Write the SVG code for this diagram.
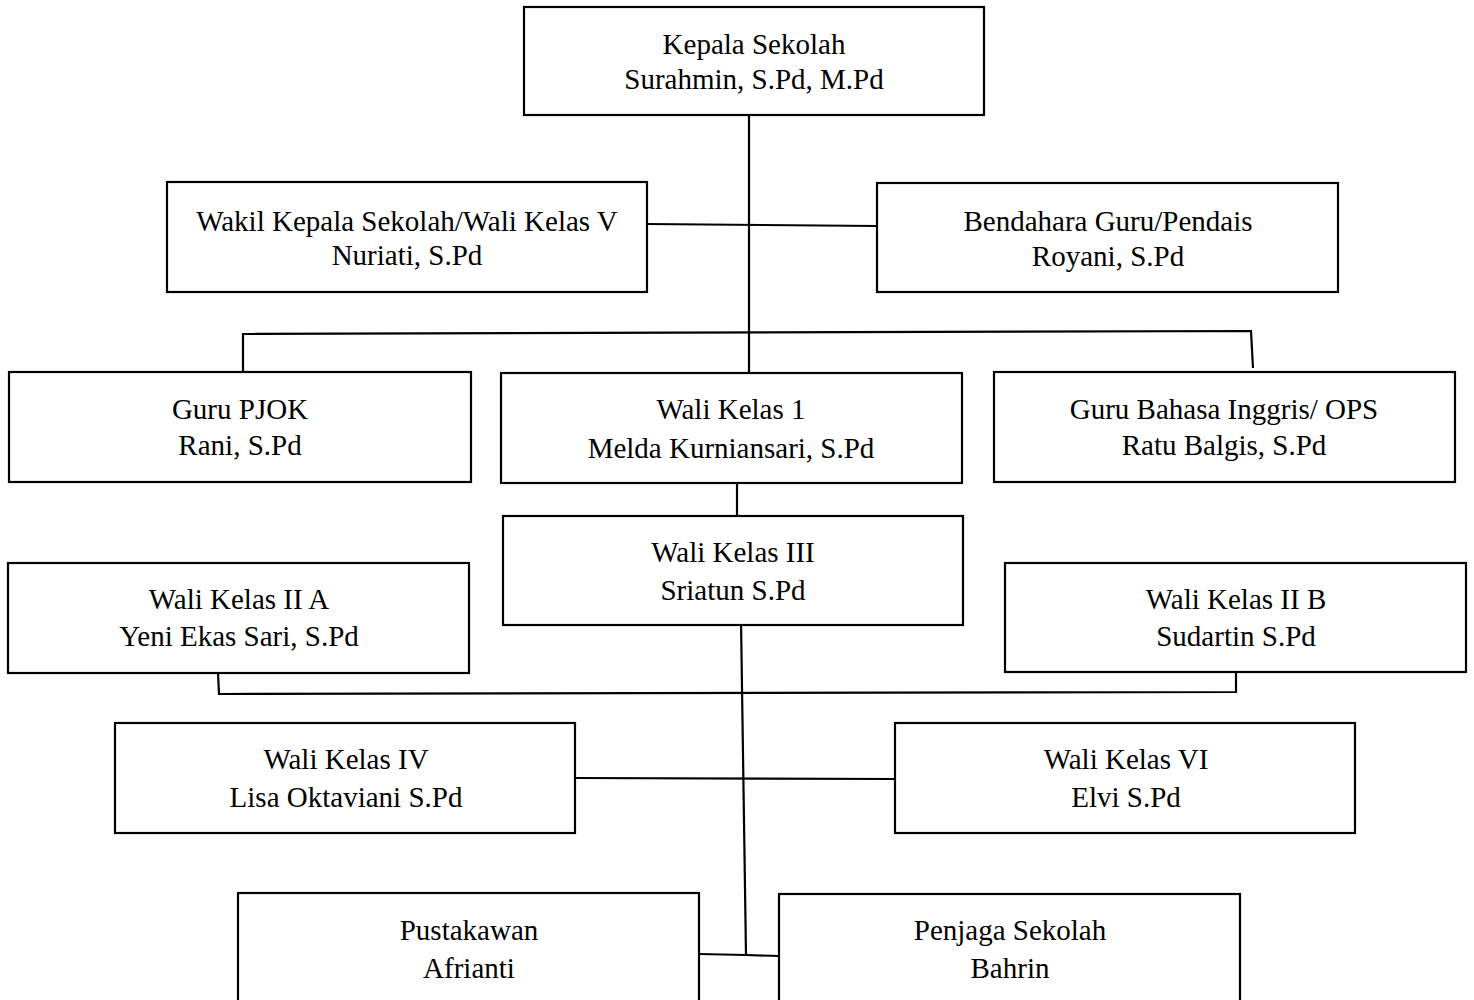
<svg xmlns="http://www.w3.org/2000/svg" width="1474" height="1000" viewBox="0 0 1474 1000">
<style>
.box{fill:#fff;stroke:#000;stroke-width:2.2}
.ln{fill:none;stroke:#000;stroke-width:2.2}
text{font-family:"Liberation Serif","Times New Roman",serif;font-size:29px;fill:#000;text-anchor:middle}
</style>
<rect width="1474" height="1000" fill="#fff"/>
<g id="connectors">
<line class="ln" x1="749" y1="115" x2="749" y2="373"/>
<line class="ln" x1="647" y1="224" x2="877" y2="226"/>
<polyline class="ln" points="243,372 243,334 1251,331 1253,368"/>
<line class="ln" x1="737" y1="483" x2="737" y2="516"/>
<line class="ln" x1="741" y1="620" x2="746" y2="955"/>
<polyline class="ln" points="218,673 219,694 1236,692 1236,672"/>
<line class="ln" x1="575" y1="778" x2="895" y2="779"/>
<polyline class="ln" points="699,954 746,955 779,956"/>
</g>
<g id="kepala"><rect class="box" x="524" y="7" width="460" height="108"/><text x="754" y="54">Kepala Sekolah</text><text x="754" y="89">Surahmin, S.Pd, M.Pd</text></g>
<g id="wakil"><rect class="box" x="167" y="182" width="480" height="110"/><text x="407" y="231">Wakil Kepala Sekolah/Wali Kelas V</text><text x="407" y="265">Nuriati, S.Pd</text></g>
<g id="bendahara"><rect class="box" x="877" y="183" width="461" height="109"/><text x="1108" y="231">Bendahara Guru/Pendais</text><text x="1108" y="266">Royani, S.Pd</text></g>
<g id="pjok"><rect class="box" x="9" y="372" width="462" height="110"/><text x="240" y="419">Guru PJOK</text><text x="240" y="455">Rani, S.Pd</text></g>
<g id="wali1"><rect class="box" x="501" y="373" width="461" height="110"/><text x="731" y="419">Wali Kelas 1</text><text x="731" y="458">Melda Kurniansari, S.Pd</text></g>
<g id="inggris"><rect class="box" x="994" y="372" width="461" height="110"/><text x="1224" y="419">Guru Bahasa Inggris/ OPS</text><text x="1224" y="455">Ratu Balgis, S.Pd</text></g>
<g id="wali3"><rect class="box" x="503" y="516" width="460" height="109"/><text x="733" y="562">Wali Kelas III</text><text x="733" y="600">Sriatun S.Pd</text></g>
<g id="wali2a"><rect class="box" x="8" y="563" width="461" height="110"/><text x="239" y="609">Wali Kelas II A</text><text x="239" y="646">Yeni Ekas Sari, S.Pd</text></g>
<g id="wali2b"><rect class="box" x="1005" y="563" width="461" height="109"/><text x="1236" y="609">Wali Kelas II B</text><text x="1236" y="646">Sudartin S.Pd</text></g>
<g id="wali4"><rect class="box" x="115" y="723" width="460" height="110"/><text x="346" y="769">Wali Kelas IV</text><text x="346" y="807">Lisa Oktaviani S.Pd</text></g>
<g id="wali6"><rect class="box" x="895" y="723" width="460" height="110"/><text x="1126" y="769">Wali Kelas VI</text><text x="1126" y="807">Elvi S.Pd</text></g>
<g id="pustakawan"><rect class="box" x="238" y="893" width="461" height="120"/><text x="469" y="940">Pustakawan</text><text x="469" y="978">Afrianti</text></g>
<g id="penjaga"><rect class="box" x="779" y="894" width="461" height="120"/><text x="1010" y="940">Penjaga Sekolah</text><text x="1010" y="978">Bahrin</text></g>
</svg>
